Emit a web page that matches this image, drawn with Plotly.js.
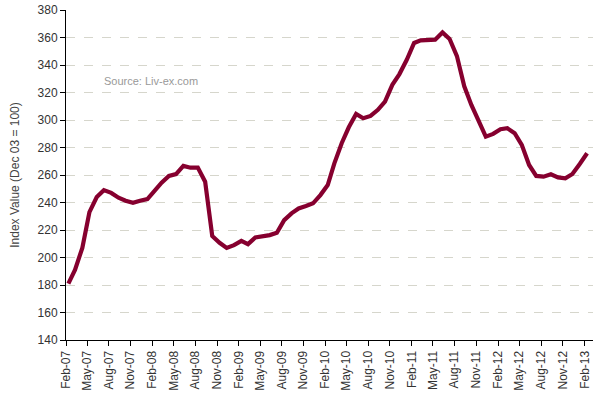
<!DOCTYPE html>
<html>
<head>
<meta charset="utf-8">
<script src="https://cdn.plot.ly/plotly-3.0.1.min.js"></script>
<style>html,body{margin:0;padding:0;background:#fff;}#chart{width:602px;height:398px;}</style>
</head>
<body>
<div id="chart"></div>
<script>
// Monthly index values, Feb-07 .. Feb-13
var indexValues = [
  181, 191, 207, 233, 244, 249, 247, 243.5, 241.3, 239.8, 241.3, 242.5,
  248.6, 254.4, 259.3, 260.7, 266.6, 265.3, 265.4, 255.1, 215.6, 210.7, 207, 209,
  212.1, 209.7, 214.6, 215.5, 216.3, 218, 227.2, 232.1, 235.7, 237.4, 239.4, 245.4,
  252.7, 268.5, 283.1, 294.7, 304.4, 301.3, 303, 307.4, 313.4, 325.6, 333.4, 343.8,
  356, 357.9, 358.4, 358.4, 363.7, 358.9, 346.5, 324.5, 311, 300, 287.9, 289.9,
  293.3, 294, 290.4, 281.9, 267.3, 259.3, 258.8, 260.5, 258.3, 257.6, 260.7, 268, 275.8
];
var startYear = 2007, startMonth = 2; // Feb-07
var tickLabels = ["Feb-07","May-07","Aug-07","Nov-07","Feb-08","May-08","Aug-08","Nov-08",
  "Feb-09","May-09","Aug-09","Nov-09","Feb-10","May-10","Aug-10","Nov-10",
  "Feb-11","May-11","Aug-11","Nov-11","Feb-12","May-12","Aug-12","Nov-12","Feb-13"];

function pad(n){return (n<10?"0":"")+n;}
var dates = [];
for (var i = 0; i < indexValues.length; i++) {
  var m = startMonth - 1 + i;
  var y = startYear + Math.floor(m / 12);
  dates.push(y + "-" + pad(m % 12 + 1) + "-11");
}
var tickVals = [];
for (var j = 0; j < tickLabels.length; j++) {
  var mm = startMonth - 1 + j * 3;
  var yy = startYear + Math.floor(mm / 12);
  tickVals.push(yy + "-" + pad(mm % 12 + 1) + "-01");
}

var trace = {
  x: dates, y: indexValues, type: "scatter", mode: "lines",
  line: {color: "#86002f", width: 4.2},
  hoverinfo: "skip"
};

var layout = {
  width: 602, height: 398,
  margin: {l: 66, r: 9, t: 10, b: 58},
  paper_bgcolor: "#ffffff", plot_bgcolor: "#ffffff",
  showlegend: false,
  font: {family: "Liberation Sans, Arial, sans-serif", size: 12, color: "#333333"},
  xaxis: {
    type: "date",
    range: ["2007-02-01", "2013-03-08"],
    tickmode: "array", tickvals: tickVals, ticktext: tickLabels,
    tickangle: -90,
    ticks: "outside", ticklen: 5, tickcolor: "#000000", tickwidth: 1,
    showline: true, linecolor: "#000000", linewidth: 1,
    showgrid: false, zeroline: false,
    tickfont: {size: 12, color: "#333333"}
  },
  yaxis: {
    range: [140, 380],
    tickvals: [140,160,180,200,220,240,260,280,300,320,340,360,380],
    ticks: "outside", ticklen: 5, tickcolor: "#000000", tickwidth: 1,
    showline: true, linecolor: "#000000", linewidth: 1,
    showgrid: true, gridcolor: "#d6d6cc", griddash: "dash", gridwidth: 1,
    zeroline: false,
    tickfont: {size: 12, color: "#333333"},
    title: {text: "Index Value (Dec 03 = 100)", font: {size: 12, color: "#444444"}, standoff: 15}
  },
  annotations: [{
    text: "Source: Liv-ex.com", xref: "paper", yref: "paper",
    x: 0.068, y: 0.785, xanchor: "left", yanchor: "middle",
    showarrow: false, font: {size: 11, color: "#999999"}
  }]
};

Plotly.newPlot("chart", [trace], layout, {displayModeBar: false, staticPlot: true});
</script>
</body>
</html>
